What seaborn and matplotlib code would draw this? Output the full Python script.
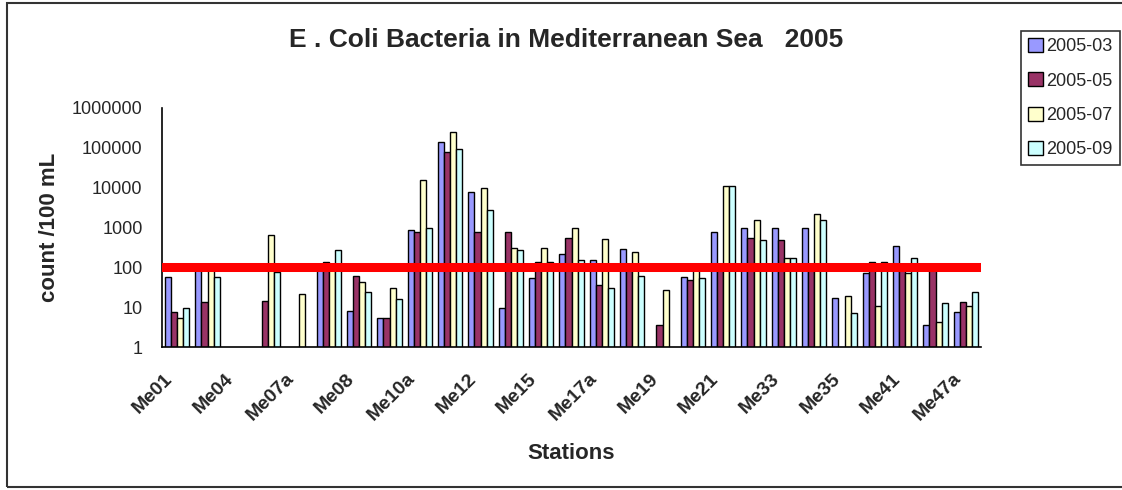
import matplotlib
matplotlib.use('Agg')
import matplotlib.pyplot as plt
import matplotlib.transforms as mtransforms
from matplotlib.patches import Rectangle
import numpy as np
import pandas as pd
import seaborn as sns

nan = np.nan

# stations (only every other one is labelled in the original chart)
stations = ['Me01', 'Me03', 'Me04', 'Me06', 'Me07a', 'Me07b', 'Me08', 'Me09', 'Me10a',
            'Me11', 'Me12', 'Me14', 'Me15', 'Me16', 'Me17a', 'Me18', 'Me19', 'Me20',
            'Me21', 'Me32', 'Me33', 'Me34', 'Me35', 'Me40', 'Me41', 'Me46', 'Me47a']

months = ['2005-03', '2005-05', '2005-07', '2005-09']

# E. coli counts per 100 mL (nan = no sample)
m03 = [57, 105, nan, nan, nan, 95, 8, 5.3, 870, 141000, 7800, 9.6, 54, 218,
       155, 290, nan, 57, 780, 980, 980, 980, 17, 72, 345, 3.5, 7.5]
m05 = [7.6, 13.5, nan, 14, nan, 135, 60, 5.3, 780, 79000, 780, 780, 135, 550,
       36, 100, 3.5, 48, 100, 550, 490, 90, nan, 135, 95, 85, 13.5]
m07 = [5.4, 110, nan, 650, 22, 110, 43, 30, 15800, 250000, 10000, 310, 310, 980,
       520, 245, 27, 85, 11000, 1550, 175, 2200, 19, 11, 72, 4.2, 10.7]
m09 = [9.7, 57, nan, 76, nan, 270, 24, 16, 980, 94000, 2750, 275, 135, 155,
       30, 60, nan, 55, 11000, 490, 175, 1550, 7, 135, 175, 13, 24]

limit = 100
colors = ['#9999FF', '#993366', '#FFFFCC', '#CCFFFF']

df = pd.DataFrame({'Station': stations, '2005-03': m03, '2005-05': m05,
                   '2005-07': m07, '2005-09': m09})
long_df = df.melt(id_vars='Station', var_name='Month', value_name='Count')

sns.set_style('white')
plt.rcParams['font.family'] = ['Liberation Sans', 'DejaVu Sans']

fig = plt.figure(figsize=(11.22, 4.90), dpi=100)
ax = fig.add_axes([162 / 1122, 1 - 347 / 490, 819 / 1122, 239 / 490])

sns.barplot(data=long_df, x='Station', y='Count', hue='Month', order=stations,
            hue_order=months, palette=colors, width=0.8, edgecolor='black',
            linewidth=1, saturation=1, errorbar=None, ax=ax)

ax.set_yscale('log')
ax.set_ylim(1, 1000000)
ax.set_xlim(-0.5, len(stations) - 0.5)
ticks = [1, 10, 100, 1000, 10000, 100000, 1000000]
ax.set_yticks(ticks, [str(t) for t in ticks], fontsize=13)
ax.yaxis.set_minor_locator(matplotlib.ticker.NullLocator())
ax.tick_params(axis='y', direction='out', length=6, width=1, color='black', pad=8)

# ticks between categories, labels on every other station
ax.set_xticks(np.arange(len(stations) + 1) - 0.5, [''] * (len(stations) + 1))
ax.tick_params(axis='x', which='major', direction='out', length=5, width=1, color='black')
label_pos = np.arange(0, len(stations), 2)
ax.set_xticks(label_pos, [stations[i] for i in label_pos], minor=True)
ax.tick_params(axis='x', which='minor', length=0, pad=8)
offset = mtransforms.ScaledTranslation(-0.13, -0.12, fig.dpi_scale_trans)
for lbl in ax.get_xticklabels(minor=True):
    lbl.set_rotation(45)
    lbl.set_ha('right')
    lbl.set_va('top')
    lbl.set_rotation_mode('anchor')
    lbl.set_fontsize(14)
    lbl.set_fontweight('bold')
    lbl.set_transform(lbl.get_transform() + offset)

for side in ['top', 'right']:
    ax.spines[side].set_visible(False)
for side in ['left', 'bottom']:
    ax.spines[side].set_color('black')
    ax.spines[side].set_linewidth(1.2)

ax.axhline(limit, color='red', linewidth=6.5, zorder=5)

ax.set_xlabel('Stations', fontsize=16, fontweight='bold')
ax.xaxis.set_label_coords(0.5, -0.40)
ax.set_ylabel('count /100 mL', fontsize=16, fontweight='bold')
ax.yaxis.set_label_coords(-0.125, 0.5)

fig.text(0.505, 0.918, 'E . Coli Bacteria in Mediterranean Sea   2005',
         ha='center', va='center', fontsize=19, fontweight='bold')

handles, labels = ax.get_legend_handles_labels()
ax.legend_.remove()
leg = fig.legend(handles, labels, loc='upper left', bbox_to_anchor=(0.91, 0.937),
                 frameon=True, fancybox=False, edgecolor='black', fontsize=13,
                 handlelength=0.8, handleheight=0.8, handletextpad=0.2,
                 labelspacing=0.95, borderpad=0.4, borderaxespad=0)
leg.get_frame().set_linewidth(1.2)

fig.add_artist(Rectangle((7 / 1122, 3 / 490), 1.0, 484 / 490, transform=fig.transFigure,
                         fill=False, edgecolor='#333333', linewidth=1.5))

fig.savefig('out.png', dpi=100)
